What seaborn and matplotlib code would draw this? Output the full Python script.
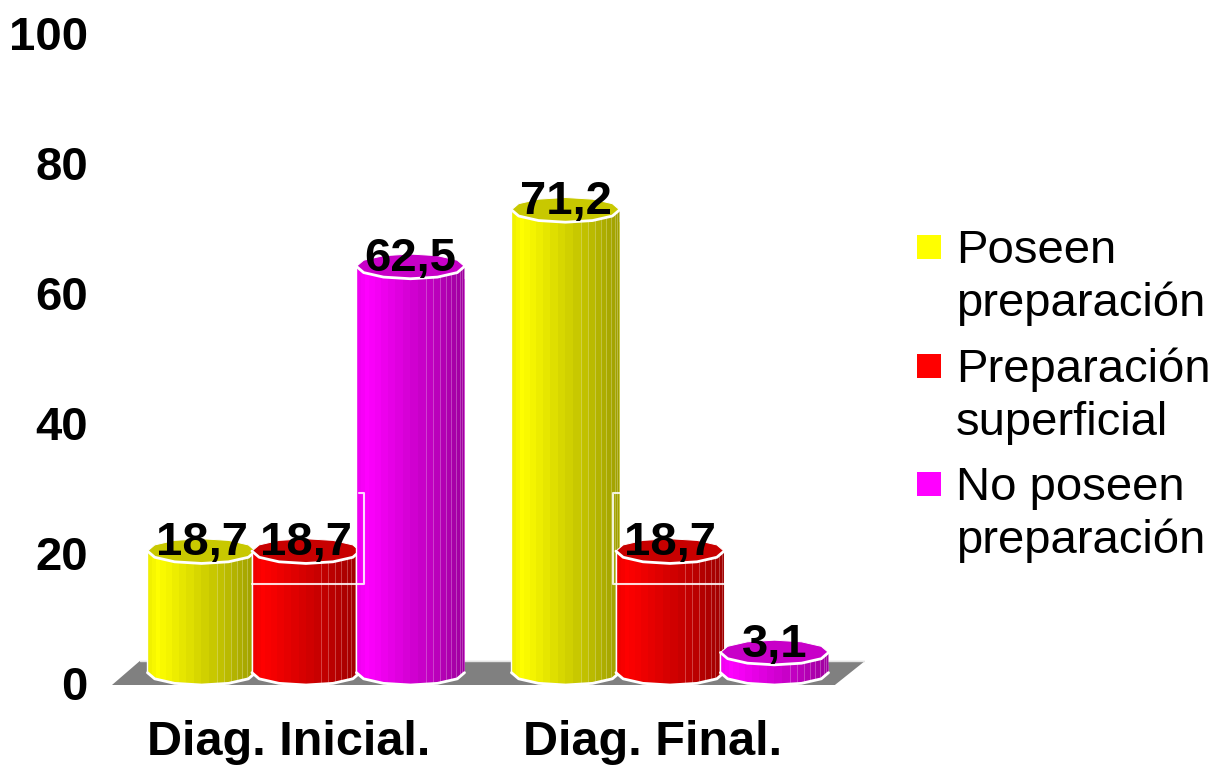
# ==========================================
# Import Libraries
# ==========================================

import numpy as np
import pandas as pd
import matplotlib
matplotlib.use("Agg")
import matplotlib.pyplot as plt
from matplotlib.path import Path
from matplotlib.patches import Polygon, Rectangle
from matplotlib.colors import to_rgb
from matplotlib.transforms import ScaledTranslation
import seaborn as sns

# ==========================================
# Data
# ==========================================

groups = ["Diag. Inicial.", "Diag. Final."]
series = ["Poseen preparación", "Preparación superficial", "No poseen preparación"]
legend_labels = ["Poseen\npreparación", "Preparación\nsuperficial", "No poseen\npreparación"]
initial_values = [18.7, 18.7, 62.5]
final_values = [71.2, 18.7, 3.1]
value_labels = {18.7: "18,7", 62.5: "62,5", 71.2: "71,2", 3.1: "3,1"}
y_ticks = [0, 20, 40, 60, 80, 100]
colors = ["#ffff00", "#ff0000", "#ff00ff"]
top_colors = ["#c8c800", "#c80000", "#c800c8"]

# stray white frames left in the original, in axis units
frame_low = 15.6
frame_high = 29.5

df = pd.DataFrame({
    "group": [groups[0]] * 3 + [groups[1]] * 3,
    "serie": series * 2,
    "value": initial_values + final_values,
})

# ==========================================
# Figure
# ==========================================

W, H = 1217, 767
sns.set_style("white")
plt.rcParams["font.family"] = ["Liberation Sans", "DejaVu Sans"]

fig, ax = plt.subplots(figsize=(W / 100, H / 100), dpi=100)
ax.set_position([112 / W, (H - 685) / H, 753 / W, 650 / H])

sns.barplot(
    data=df, x="group", y="value", hue="serie", hue_order=series,
    palette=colors, width=0.861, gap=-0.035, legend=False, ax=ax,
    edgecolor="none", saturation=1,
)
bars = sorted(ax.patches, key=lambda b: b.get_x())

# ==========================================
# Floor
# ==========================================

floor_depth = 3.7
floor = Polygon(
    [(0, 0), (0.037, floor_depth), (1, floor_depth), (0.96, 0)],
    closed=True, facecolor="#808080", edgecolor="none",
    transform=ax.get_yaxis_transform(), zorder=0.5,
)
ax.add_patch(floor)
ax.plot([0.037, 1], [floor_depth, floor_depth], color="#e4e4e4", lw=1,
        transform=ax.get_yaxis_transform(), zorder=0.6)

# ==========================================
# Cylinders
# ==========================================

lip = 1.9      # half height of the ellipses
facets = 22
angles = np.linspace(np.pi, 0, facets + 1)


def half_ellipse(cx, cy, rx, front=True, n=7):
    a = np.linspace(np.pi, 2 * np.pi, n) if front else np.linspace(0, np.pi, n)
    return np.column_stack([cx + rx * np.cos(a), cy + lip * np.sin(a)])


series_order = [0, 1, 2, 0, 1, 2]
gridx = np.linspace(0, 1, 700)
edges = (1 + np.cos(angles)) / 2
facet_id = np.clip(np.searchsorted(edges, gridx, side="right") - 1, 0, facets - 1)
facet_mid = (edges[facet_id] + edges[facet_id + 1]) / 2
shade = np.where(facet_mid < 0.1, 0.92 + 0.8 * facet_mid,
                 1 - 0.38 * (facet_mid - 0.1) / 0.9)

for k, (bar, s) in enumerate(zip(bars, series_order)):
    x0 = bar.get_x()
    w = bar.get_width()
    x1 = x0 + w
    cx = x0 + w / 2
    rx = w / 2
    v = bar.get_height()
    z = 2 + k

    front_low = half_ellipse(cx, lip, rx)
    front_top = half_ellipse(cx, v + lip, rx)
    back_top = half_ellipse(cx, v + lip, rx, front=False)
    outline = np.vstack([front_low, front_top[::-1]])
    body = Path(np.vstack([outline, outline[0]]), closed=True)

    bar.set_zorder(z)
    bar.set_clip_path(body, ax.transData)

    rgb = np.array(to_rgb(colors[s]))
    grad = (shade[:, None] * rgb)[None, :, :]
    im = ax.imshow(grad, extent=[x0, x1, 0, v + lip], aspect="auto",
                   interpolation="nearest", zorder=z + 0.1)
    im.set_clip_path(body, ax.transData)

    # pale seams between the narrow facets on the dark side
    seams = x0 + w * edges[(edges > 0.62) & (edges < 1)]
    vl = ax.vlines(seams, 0, v + lip, color="white", lw=0.6, alpha=0.3, zorder=z + 0.2)
    vl.set_clip_path(body, ax.transData)

    # top of the cylinder
    ax.add_patch(Polygon(np.vstack([front_top, back_top]), closed=True,
                         facecolor=top_colors[s], edgecolor="white", lw=0.7,
                         alpha=1, zorder=z + 0.3))
    ax.plot(front_top[:, 0], front_top[:, 1], color="white", lw=2, zorder=z + 0.4)
    ax.plot(front_low[:, 0], front_low[:, 1], color="white", lw=2, zorder=z + 0.4)
    ax.plot([x0, x0], [lip, v + lip], color="white", lw=1, zorder=z + 0.4)

# ==========================================
# Stray frames
# ==========================================

b = bars[1]
ax.plot([b.get_x(), b.get_x() + b.get_width() + 0.012, b.get_x() + b.get_width() + 0.012, b.get_x() + b.get_width() - 0.004],
        [frame_low, frame_low, frame_high, frame_high],
        color="white", lw=1.5, zorder=20, alpha=0.85)
b = bars[4]
ax.plot([b.get_x() + 0.012, b.get_x() - 0.008, b.get_x() - 0.008, b.get_x() + b.get_width() + 0.003, b.get_x() + b.get_width() + 0.003],
        [frame_high, frame_high, frame_low, frame_low, 21],
        color="white", lw=1.5, zorder=20, alpha=0.85)

# ==========================================
# Value Labels
# ==========================================

for bar in bars:
    v = bar.get_height()
    ax.annotate(value_labels[v], (bar.get_x() + bar.get_width() / 2, v),
                xytext=(0, 5.8), textcoords="offset points", ha="center",
                va="baseline", fontsize=34, fontweight="bold", color="black",
                zorder=30, annotation_clip=False)

# ==========================================
# Axes
# ==========================================

ax.set_xlim((112 - 306) / 364, (865 - 306) / 364)
ax.set_ylim(0, 100)
ax.set_yticks(y_ticks)
ax.set_yticklabels([str(t) for t in y_ticks], fontsize=34, fontweight="bold", color="black")
ax.set_xticks([0, 1])
ax.set_xticklabels(groups, fontsize=35, fontweight="bold", color="black")
ax.tick_params(axis="y", length=0, pad=17.3)
ax.tick_params(axis="x", length=0, pad=25.5)
ax.set_xlabel("")
ax.set_ylabel("")
sns.despine(ax=ax, left=True, bottom=True)
ax.patch.set_visible(False)

shift_x = ScaledTranslation(-17 / 100, 0, fig.dpi_scale_trans)
for lab in ax.get_xticklabels():
    lab.set_transform(lab.get_transform() + shift_x)
shift_y = ScaledTranslation(0, 2 / 100, fig.dpi_scale_trans)
for lab in ax.get_yticklabels():
    lab.set_transform(lab.get_transform() + shift_y)

# ==========================================
# Legend
# ==========================================

legend_y = [247, 366, 484]
for label, col, y in zip(legend_labels, colors, legend_y):
    fig.add_artist(Rectangle((917 / W, 1 - (y + 12) / H), 24 / W, 24 / H,
                             facecolor=col, edgecolor="none",
                             transform=fig.transFigure))
    fig.text(956 / W, 1 - (y - 18) / H, label, fontsize=34, ha="left", va="top",
             linespacing=1.26, color="black")

fig.savefig("out.png", dpi=100)
